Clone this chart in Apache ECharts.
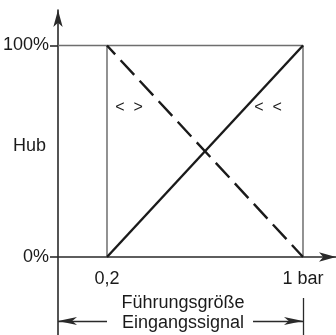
<!DOCTYPE html>
<html>
<head>
<meta charset="utf-8">
<script src="https://cdn.jsdelivr.net/npm/echarts@6/dist/echarts.min.js"></script>
<style>
  html, body { margin: 0; padding: 0; background: #fff; }
  #main { width: 336px; height: 335px; }
</style>
</head>
<body>
<div id="main"></div>
<script>
// Führungsgröße in bar, Hub in %
const signalRange = [0.2, 1];
const hubRising = [0, 100];   // << (steigend/steigend)
const hubFalling = [100, 0];  // <> (steigend/fallend)
const xTickValues = [0.2, 1];
const xTickLabels = ["0,2", "1 bar"];
const yTickValues = [0, 100];
const yTickLabels = ["0%", "100%"];

const FONT = "Liberation Sans";
const INK = "#1a1a1a";
const AXIS = "#2a2a2a";
const FRAME = "#6e6e6e";
const dimY = -30.3;

let chart = echarts.init(document.getElementById("main"));

let risingData = signalRange.map((x, i) => [x, hubRising[i]]);
let fallingData = signalRange.map((x, i) => [x, hubFalling[i]]);
let frameData = [
  [0, yTickValues[1]],
  [signalRange[1], yTickValues[1]],
  [signalRange[1], yTickValues[0]],
];
let frameLeft = [
  [signalRange[0], yTickValues[1]],
  [signalRange[0], yTickValues[0]],
];

let option = {
  animation: false,
  grid: { left: 58, right: 0, top: 10, bottom: 0, outerBoundsMode: "none", containLabel: false },
  xAxis: {
    type: "value",
    min: 0,
    max: 1.1347,
    axisLine: {
      show: true,
      onZero: true,
      symbol: ["none", "arrow"],
      symbolSize: [7, 17],
      lineStyle: { color: AXIS, width: 1.6 },
    },
    axisTick: { show: false },
    splitLine: { show: false },
    axisLabel: {
      customValues: xTickValues,
      formatter: (v) => xTickLabels[xTickValues.indexOf(v)],
      margin: -65,
      color: INK,
      fontFamily: FONT,
      fontSize: 18,
    },
  },
  yAxis: {
    type: "value",
    min: -36.9,
    max: 116.8,
    axisLine: {
      show: true,
      onZero: false,
      symbol: ["none", "arrow"],
      symbolSize: [7, 17],
      lineStyle: { color: AXIS, width: 1.6 },
    },
    axisTick: {
      show: true,
      customValues: yTickValues,
      length: 8,
      lineStyle: { color: AXIS, width: 1.6 },
    },
    splitLine: { show: false },
    axisLabel: {
      customValues: yTickValues,
      formatter: (v) => yTickLabels[yTickValues.indexOf(v)],
      margin: 9,
      color: INK,
      fontFamily: FONT,
      fontSize: 18,
    },
  },
  series: [
    {
      type: "line",
      data: frameData,
      symbol: "none",
      silent: true,
      lineStyle: { color: FRAME, width: 1.5 },
      markLine: {
        silent: true,
        label: { show: false },
        lineStyle: { color: AXIS, width: 1.3, type: "solid" },
        symbolSize: [6, 19],
        data: [
          [
            { coord: [signalRange[1], -19.4], symbol: "none" },
            { coord: [signalRange[1], -36.9], symbol: "none" },
          ],
          [
            { coord: [0, dimY], symbol: "arrow" },
            { coord: [signalRange[0], dimY], symbol: "none" },
          ],
          [
            { coord: [0.796, dimY], symbol: "none" },
            { coord: [signalRange[1], dimY], symbol: "arrow" },
          ],
        ],
      },
    },
    {
      type: "line",
      data: frameLeft,
      symbol: "none",
      silent: true,
      lineStyle: { color: FRAME, width: 1.5 },
    },
    {
      type: "line",
      name: "<>",
      data: fallingData,
      symbol: "none",
      lineStyle: { color: INK, width: 2.4, type: [20, 8], dashOffset: 8 },
    },
    {
      type: "line",
      name: "<<",
      data: risingData,
      symbol: "none",
      lineStyle: { color: INK, width: 2.4 },
    },
  ],
  graphic: [
    { type: "text", left: 13, top: 137, style: { text: "Hub", fill: INK, font: "18px " + FONT } },
    { type: "text", x: 129, y: 108, style: { text: "<  >", fill: INK, font: "16px " + FONT, align: "center", verticalAlign: "middle" } },
    { type: "text", x: 268, y: 108, style: { text: "<  <", fill: INK, font: "16px " + FONT, align: "center", verticalAlign: "middle" } },
    { type: "text", x: 183, y: 303, style: { text: "Führungsgröße", fill: INK, font: "18px " + FONT, align: "center", verticalAlign: "middle" } },
    { type: "text", x: 183, y: 323, style: { text: "Eingangssignal", fill: INK, font: "18px " + FONT, align: "center", verticalAlign: "middle" } },
  ],
};
chart.setOption(option);
</script>
</body>
</html>
